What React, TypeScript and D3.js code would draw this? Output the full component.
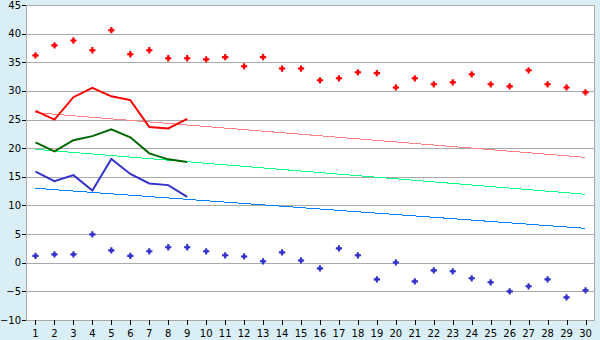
import React from "react";
import * as d3 from "d3";

const days: number[] = d3.range(1, 31);
const yTicks: number[] = [-10, -5, 0, 5, 10, 15, 20, 25, 30, 35, 40, 45];

const recordMax: number[] = [36.2, 37.95, 38.8, 37.1, 40.6, 36.4, 37.1, 35.7, 35.7, 35.5, 35.9, 34.3, 35.9, 33.9, 33.9, 31.85, 32.2, 33.25, 33.1, 30.6, 32.2, 31.15, 31.5, 32.9, 31.15, 30.8, 33.6, 31.15, 30.6, 29.75];
const recordMin: number[] = [1.2, 1.45, 1.45, 4.95, 2.15, 1.2, 2.0, 2.7, 2.7, 2.0, 1.3, 1.1, 0.25, 1.8, 0.4, -0.98, 2.5, 1.3, -2.9, 0.05, -3.25, -1.33, -1.5, -2.72, -3.42, -5.0, -4.12, -2.9, -6.05, -4.82];

const actualMax: number[] = [26.5, 25.0, 28.9, 30.55, 29.05, 28.4, 23.7, 23.45, 25.1];
const actualMean: number[] = [21.0, 19.45, 21.4, 22.1, 23.3, 21.9, 19.1, 18.05, 17.6];
const actualMin: number[] = [15.9, 14.25, 15.3, 12.6, 18.1, 15.5, 13.85, 13.55, 11.5];

// normals: value at day 1 and at day 30
const normalMax: number[] = [26.2, 18.4];
const normalMean: number[] = [19.8, 11.95];
const normalMin: number[] = [13.0, 6.0];

const W = 600, H = 340;
const left = 26, right = 595, top = 5, bottom = 320;

export default function App() {
  const x = d3.scalePoint<number>().domain(days).range([left, right]).padding(0.5);
  const y = d3.scaleLinear().domain([-10, 45]).range([bottom, top]);
  const line = d3.line<number>().x((_, i) => x(days[i]) as number).y((d) => y(d));
  const normLine = (v: number[]) =>
    d3.line<number>().x((_, i) => x(i === 0 ? days[0] : days[days.length - 1]) as number).y((d) => y(d))(v) || "";
  const cross = d3.symbol().type(d3.symbolCross).size(22)() || "";
  const dot = d3.symbol().type(d3.symbolSquare).size(9)() || "";
  const font = "DejaVu Sans, Verdana, sans-serif";

  return (
    <svg width={W} height={H} style={{ position: "absolute", left: 0, top: 0, display: "block" }}>
      <rect x={0} y={0} width={W} height={H} fill="#d9eff5" />
      <rect x={left} y={top} width={right - left} height={bottom - top} fill="#ffffff" />
      {yTicks.map((t) => (
        <g key={t}>
          <line x1={left} x2={right} y1={Math.round(y(t)) + 0.5} y2={Math.round(y(t)) + 0.5} stroke="#aaaaaa" strokeWidth={1} />
          <line x1={left - 4} x2={left} y1={Math.round(y(t)) + 0.5} y2={Math.round(y(t)) + 0.5} stroke="#000" strokeWidth={1} />
          <text x={left - 5} y={y(t)} dy="0.35em" textAnchor="end" fontFamily={font} fontSize={10} fill="#000">
            {t < 0 ? "\u2212" + Math.abs(t) : t}
          </text>
        </g>
      ))}
      <rect x={left + 0.5} y={top + 0.5} width={right - left - 1} height={bottom - top} fill="none" stroke="#aaaaaa" strokeWidth={1} />
      {days.map((d) => (
        <g key={d}>
          <line x1={Math.round(x(d) as number) + 0.5} x2={Math.round(x(d) as number) + 0.5} y1={bottom} y2={bottom + 5} stroke="#000" strokeWidth={1} />
          <text x={x(d) as number} y={337} textAnchor="middle" fontFamily={font} fontSize={10} fill="#000">
            {d}
          </text>
        </g>
      ))}
      <path d={normLine(normalMax)} fill="none" stroke="#ff8080" strokeWidth={1} shapeRendering="crispEdges" />
      <path d={normLine(normalMean)} fill="none" stroke="#00ff80" strokeWidth={1} shapeRendering="crispEdges" />
      <path d={normLine(normalMin)} fill="none" stroke="#0080ff" strokeWidth={1} shapeRendering="crispEdges" />
      <path d={line(actualMax) || ""} fill="none" stroke="#ff0000" strokeWidth={2} />
      <path d={line(actualMean) || ""} fill="none" stroke="#006600" strokeWidth={2} />
      <path d={line(actualMin) || ""} fill="none" stroke="#3333cc" strokeWidth={2} />
      {recordMax.map((v, i) => (
        <g key={"mx" + i} transform={`translate(${x(days[i])},${y(v)})`} fill="#ff0000">
          <path d={cross} />
          <path d={dot} />
        </g>
      ))}
      {recordMin.map((v, i) => (
        <g key={"mn" + i} transform={`translate(${x(days[i])},${y(v)})`} fill="#3333cc">
          <path d={cross} />
          <path d={dot} />
        </g>
      ))}
    </svg>
  );
}
